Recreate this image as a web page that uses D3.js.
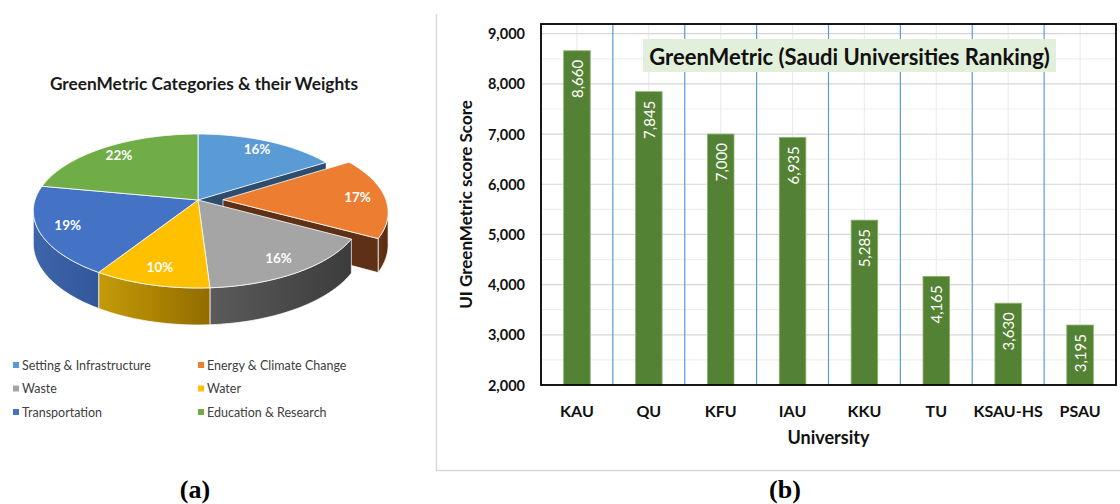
<!DOCTYPE html>
<html>
<head>
<meta charset="utf-8">
<script src="https://cdn.jsdelivr.net/npm/d3@7"></script>
<style>
  body { margin: 0; background: #fff; }
  svg { display: block; font-family: Lato, "Open Sans", sans-serif; }
</style>
</head>
<body>
<svg id="chart" width="1120" height="504"></svg>
<script>
// Pie data (a)
const categories = ["Setting & Infrastructure", "Energy & Climate Change", "Waste", "Water", "Transportation", "Education & Research"];
const weights = [16, 17, 16, 10, 19, 22];
const sliceColors = ["#5B9BD5", "#ED7D31", "#A5A5A5", "#FFC000", "#4472C4", "#70AD47"];
const wallColors = [["#3a6a96", "#2d5175"], ["#66361a", "#57290f"], ["#5b5b5b", "#3c3c3c"], ["#c49b06", "#926c00"], ["#3e64aa", "#33579a"], ["#4f7e32", "#3e6527"]];
const explodedIndex = 1;

// Bar data (b)
const universities = ["KAU", "QU", "KFU", "IAU", "KKU", "TU", "KSAU-HS", "PSAU"];
const scores = [8660, 7845, 7000, 6935, 5285, 4165, 3630, 3195];
const yTicks = [2000, 3000, 4000, 5000, 6000, 7000, 8000, 9000];

const svg = d3.select("#chart");
const defs = svg.append("defs");

// ---------- (a) 3D pie ----------
const pieG = svg.append("g");

pieG.append("text")
    .attr("x", 204).attr("y", 83)
    .attr("text-anchor", "middle").attr("dominant-baseline", "central")
    .attr("font-size", 17.3).attr("font-weight", "bold").attr("fill", "#1a1a1a")
    .text("GreenMetric Categories & their Weights");

const cx = 198, cy = 200, R = 163, A = 75.4, D = 7, H = 31.7;
const explode = 25 / R;

// project a point on the pie (normalized radius r, angle theta) to the screen
function proj(theta, r, depth, off) {
    const px = r * Math.sin(theta) + off[0];
    const pz = -r * Math.cos(theta) + off[1];
    const f = D / (D - pz);
    return [cx + px * R * f, cy + pz * A * f + depth * f];
}

function arcPoints(t0, t1, depth, off) {
    const n = Math.max(2, Math.ceil((t1 - t0) / 0.02));
    const pts = [];
    for (let i = 0; i <= n; i++) pts.push(proj(t0 + (t1 - t0) * i / n, 1, depth, off));
    return pts;
}

const line = d3.line();
const arcs = d3.pie().sort(null)(weights);
arcs.forEach((a, i) => {
    const mid = (a.startAngle + a.endAngle) / 2;
    a.off = i === explodedIndex ? [explode * Math.sin(mid), -explode * Math.cos(mid)] : [0, 0];
    a.mid = mid;
});

// wall gradients
wallColors.forEach((c, i) => {
    const g = defs.append("linearGradient").attr("id", "wall" + i)
        .attr("x1", 0).attr("x2", 1).attr("y1", 0).attr("y2", 0);
    g.append("stop").attr("offset", 0).attr("stop-color", c[0]);
    g.append("stop").attr("offset", 1).attr("stop-color", c[1]);
});

const lim0 = Math.acos(-1 / D), lim1 = 2 * Math.PI - lim0;

function topPath(a) {
    const pts = [proj(0, 0, 0, a.off)].concat(arcPoints(a.startAngle, a.endAngle, 0, a.off));
    return line(pts) + "Z";
}
function wallPath(a) {
    const t0 = Math.max(a.startAngle, lim0), t1 = Math.min(a.endAngle, lim1);
    if (t1 <= t0) return null;
    const top = arcPoints(t0, t1, 0, a.off);
    const bot = arcPoints(t0, t1, H, a.off).reverse();
    return line(top.concat(bot)) + "Z";
}
function radialPath(a, theta) {
    const pts = [proj(0, 0, 0, a.off), proj(theta, 1, 0, a.off), proj(theta, 1, H, a.off), proj(0, 0, H, a.off)];
    return line(pts) + "Z";
}

// back-to-front drawing
pieG.append("path").attr("d", radialPath(arcs[0], arcs[0].endAngle)).attr("fill", "#2c4d6e");

const ex = arcs[explodedIndex];
const exWall = wallPath(ex);
if (exWall) pieG.append("path").attr("d", exWall).attr("fill", "url(#wall" + explodedIndex + ")")
    .attr("stroke", "#fff").attr("stroke-width", 0.7);
pieG.append("path").attr("d", radialPath(ex, ex.endAngle)).attr("fill", "#5e3117")
    .attr("stroke", "#fff").attr("stroke-width", 0.7);
pieG.append("path").attr("d", topPath(ex)).attr("fill", sliceColors[explodedIndex])
    .attr("stroke", "#fff").attr("stroke-width", 0.8);

arcs.forEach((a, i) => {
    if (i === explodedIndex) return;
    const w = wallPath(a);
    if (w) pieG.append("path").attr("d", w).attr("fill", "url(#wall" + i + ")")
        .attr("stroke", "#fff").attr("stroke-width", 0.7);
});
arcs.forEach((a, i) => {
    if (i === explodedIndex) return;
    pieG.append("path").attr("d", topPath(a)).attr("fill", sliceColors[i])
        .attr("stroke", "#fff").attr("stroke-width", 0.8);
});

// percentage labels
arcs.forEach((a, i) => {
    const p = proj(a.mid, 0.83, 0, a.off);
    pieG.append("text")
        .attr("x", p[0]).attr("y", p[1] - 1)
        .attr("text-anchor", "middle").attr("dominant-baseline", "central")
        .attr("font-size", 13.5).attr("font-weight", "bold").attr("fill", "#fff")
        .text(weights[i] + "%");
});

// legend
const legend = pieG.append("g");
categories.forEach((c, i) => {
    const lx = i % 2 === 0 ? 13 : 198;
    const ly = 365 + Math.floor(i / 2) * 23.5;
    legend.append("rect").attr("x", lx).attr("y", ly - 3).attr("width", 6).attr("height", 6)
        .attr("fill", sliceColors[i]);
    legend.append("text").attr("x", lx + 9).attr("y", ly).attr("dominant-baseline", "central")
        .attr("font-size", 12.5).attr("fill", "#404040").text(c);
});

// ---------- (b) bar chart ----------
const plot = { left: 541, right: 1116, top: 24, bottom: 385 };

// panel frame (left + bottom)
svg.append("path")
    .attr("d", `M436.5,14V470.5H1120`)
    .attr("fill", "none").attr("stroke", "#d9d9d9").attr("stroke-width", 1.5);

const x = d3.scaleBand().domain(universities).range([plot.left, plot.right])
    .paddingInner(0.63).paddingOuter(0.315);
const y = d3.scaleLinear().domain([2000, 9000]).range([plot.bottom, 33.7]);
const step = x.step();

const barG = svg.append("g");

// minor gridlines
barG.selectAll(".minor").data(d3.range(2500, 9000, 1000)).enter().append("line")
    .attr("x1", plot.left).attr("x2", plot.right)
    .attr("y1", d => y(d)).attr("y2", d => y(d))
    .attr("stroke", "#efefef").attr("stroke-width", 1.2);
// vertical light gridlines at category centres
barG.selectAll(".vgrid").data(universities).enter().append("line")
    .attr("x1", d => x(d) + x.bandwidth() / 2).attr("x2", d => x(d) + x.bandwidth() / 2)
    .attr("y1", plot.top).attr("y2", plot.bottom)
    .attr("stroke", "#ececec").attr("stroke-width", 1.2);
// major gridlines
barG.selectAll(".major").data(yTicks).enter().append("line")
    .attr("x1", plot.left).attr("x2", plot.right)
    .attr("y1", d => y(d)).attr("y2", d => y(d))
    .attr("stroke", "#d6d6d6").attr("stroke-width", 1.2);
// blue category separators
barG.selectAll(".sep").data(universities.slice(0, -1)).enter().append("line")
    .attr("x1", d => x(d) + x.bandwidth() / 2 + step / 2).attr("x2", d => x(d) + x.bandwidth() / 2 + step / 2)
    .attr("y1", plot.top).attr("y2", plot.bottom)
    .attr("stroke", "#5B9BD5").attr("stroke-width", 1.2);

// title box
barG.append("rect").attr("x", 643).attr("y", 39).attr("width", 413).attr("height", 33)
    .attr("fill", "#E2EFDA");
barG.append("text").attr("x", 849.5).attr("y", 56)
    .attr("text-anchor", "middle").attr("dominant-baseline", "central")
    .attr("font-size", 22).attr("font-weight", "bold").attr("fill", "#111")
    .text("GreenMetric (Saudi Universities Ranking)");

// bars
barG.selectAll(".bar").data(scores).enter().append("rect")
    .attr("x", (d, i) => x(universities[i]))
    .attr("y", d => y(d))
    .attr("width", x.bandwidth())
    .attr("height", d => y(2000) - y(d))
    .attr("fill", "#548235").attr("stroke", "#8db571").attr("stroke-width", 0.8);

// bar value labels
barG.selectAll(".val").data(scores).enter().append("text")
    .attr("transform", (d, i) => `translate(${x(universities[i]) + x.bandwidth() / 2},${y(d) + 9}) rotate(-90)`)
    .attr("text-anchor", "end").attr("dominant-baseline", "central")
    .attr("font-size", 15).attr("fill", "#fff")
    .text(d => d3.format(",")(d));

// plot frame
barG.append("rect").attr("x", plot.left).attr("y", plot.top)
    .attr("width", plot.right - plot.left).attr("height", plot.bottom - plot.top)
    .attr("fill", "none").attr("stroke", "#000").attr("stroke-width", 1.8);

// y tick labels
barG.selectAll(".ytick").data(yTicks).enter().append("text")
    .attr("x", 525).attr("y", d => y(d))
    .attr("text-anchor", "end").attr("dominant-baseline", "central")
    .attr("font-size", 14.5).attr("font-weight", "bold").attr("fill", "#111")
    .text(d => d3.format(",")(d));

// x tick labels
barG.selectAll(".xtick").data(universities).enter().append("text")
    .attr("x", d => x(d) + x.bandwidth() / 2).attr("y", 410)
    .attr("text-anchor", "middle").attr("dominant-baseline", "central")
    .attr("font-size", 16).attr("font-weight", "bold").attr("fill", "#111")
    .text(d => d);

// axis titles
barG.append("text").attr("x", (plot.left + plot.right) / 2).attr("y", 437)
    .attr("text-anchor", "middle").attr("dominant-baseline", "central")
    .attr("font-size", 18).attr("font-weight", "bold").attr("fill", "#111")
    .text("University");
barG.append("text")
    .attr("transform", `translate(465,${(plot.top + plot.bottom) / 2}) rotate(-90)`)
    .attr("text-anchor", "middle").attr("dominant-baseline", "central")
    .attr("font-size", 17).attr("font-weight", "bold").attr("fill", "#111")
    .text("UI GreenMetric score Score");

// panel captions
[["(a)", 195], ["(b)", 785]].forEach(c => {
    svg.append("text").attr("x", c[1]).attr("y", 498)
        .attr("text-anchor", "middle")
        .attr("font-family", "'Liberation Serif', 'Times New Roman', serif")
        .attr("font-size", 26).attr("font-weight", "bold").attr("fill", "#000")
        .text(c[0]);
});
</script>
</body>
</html>
